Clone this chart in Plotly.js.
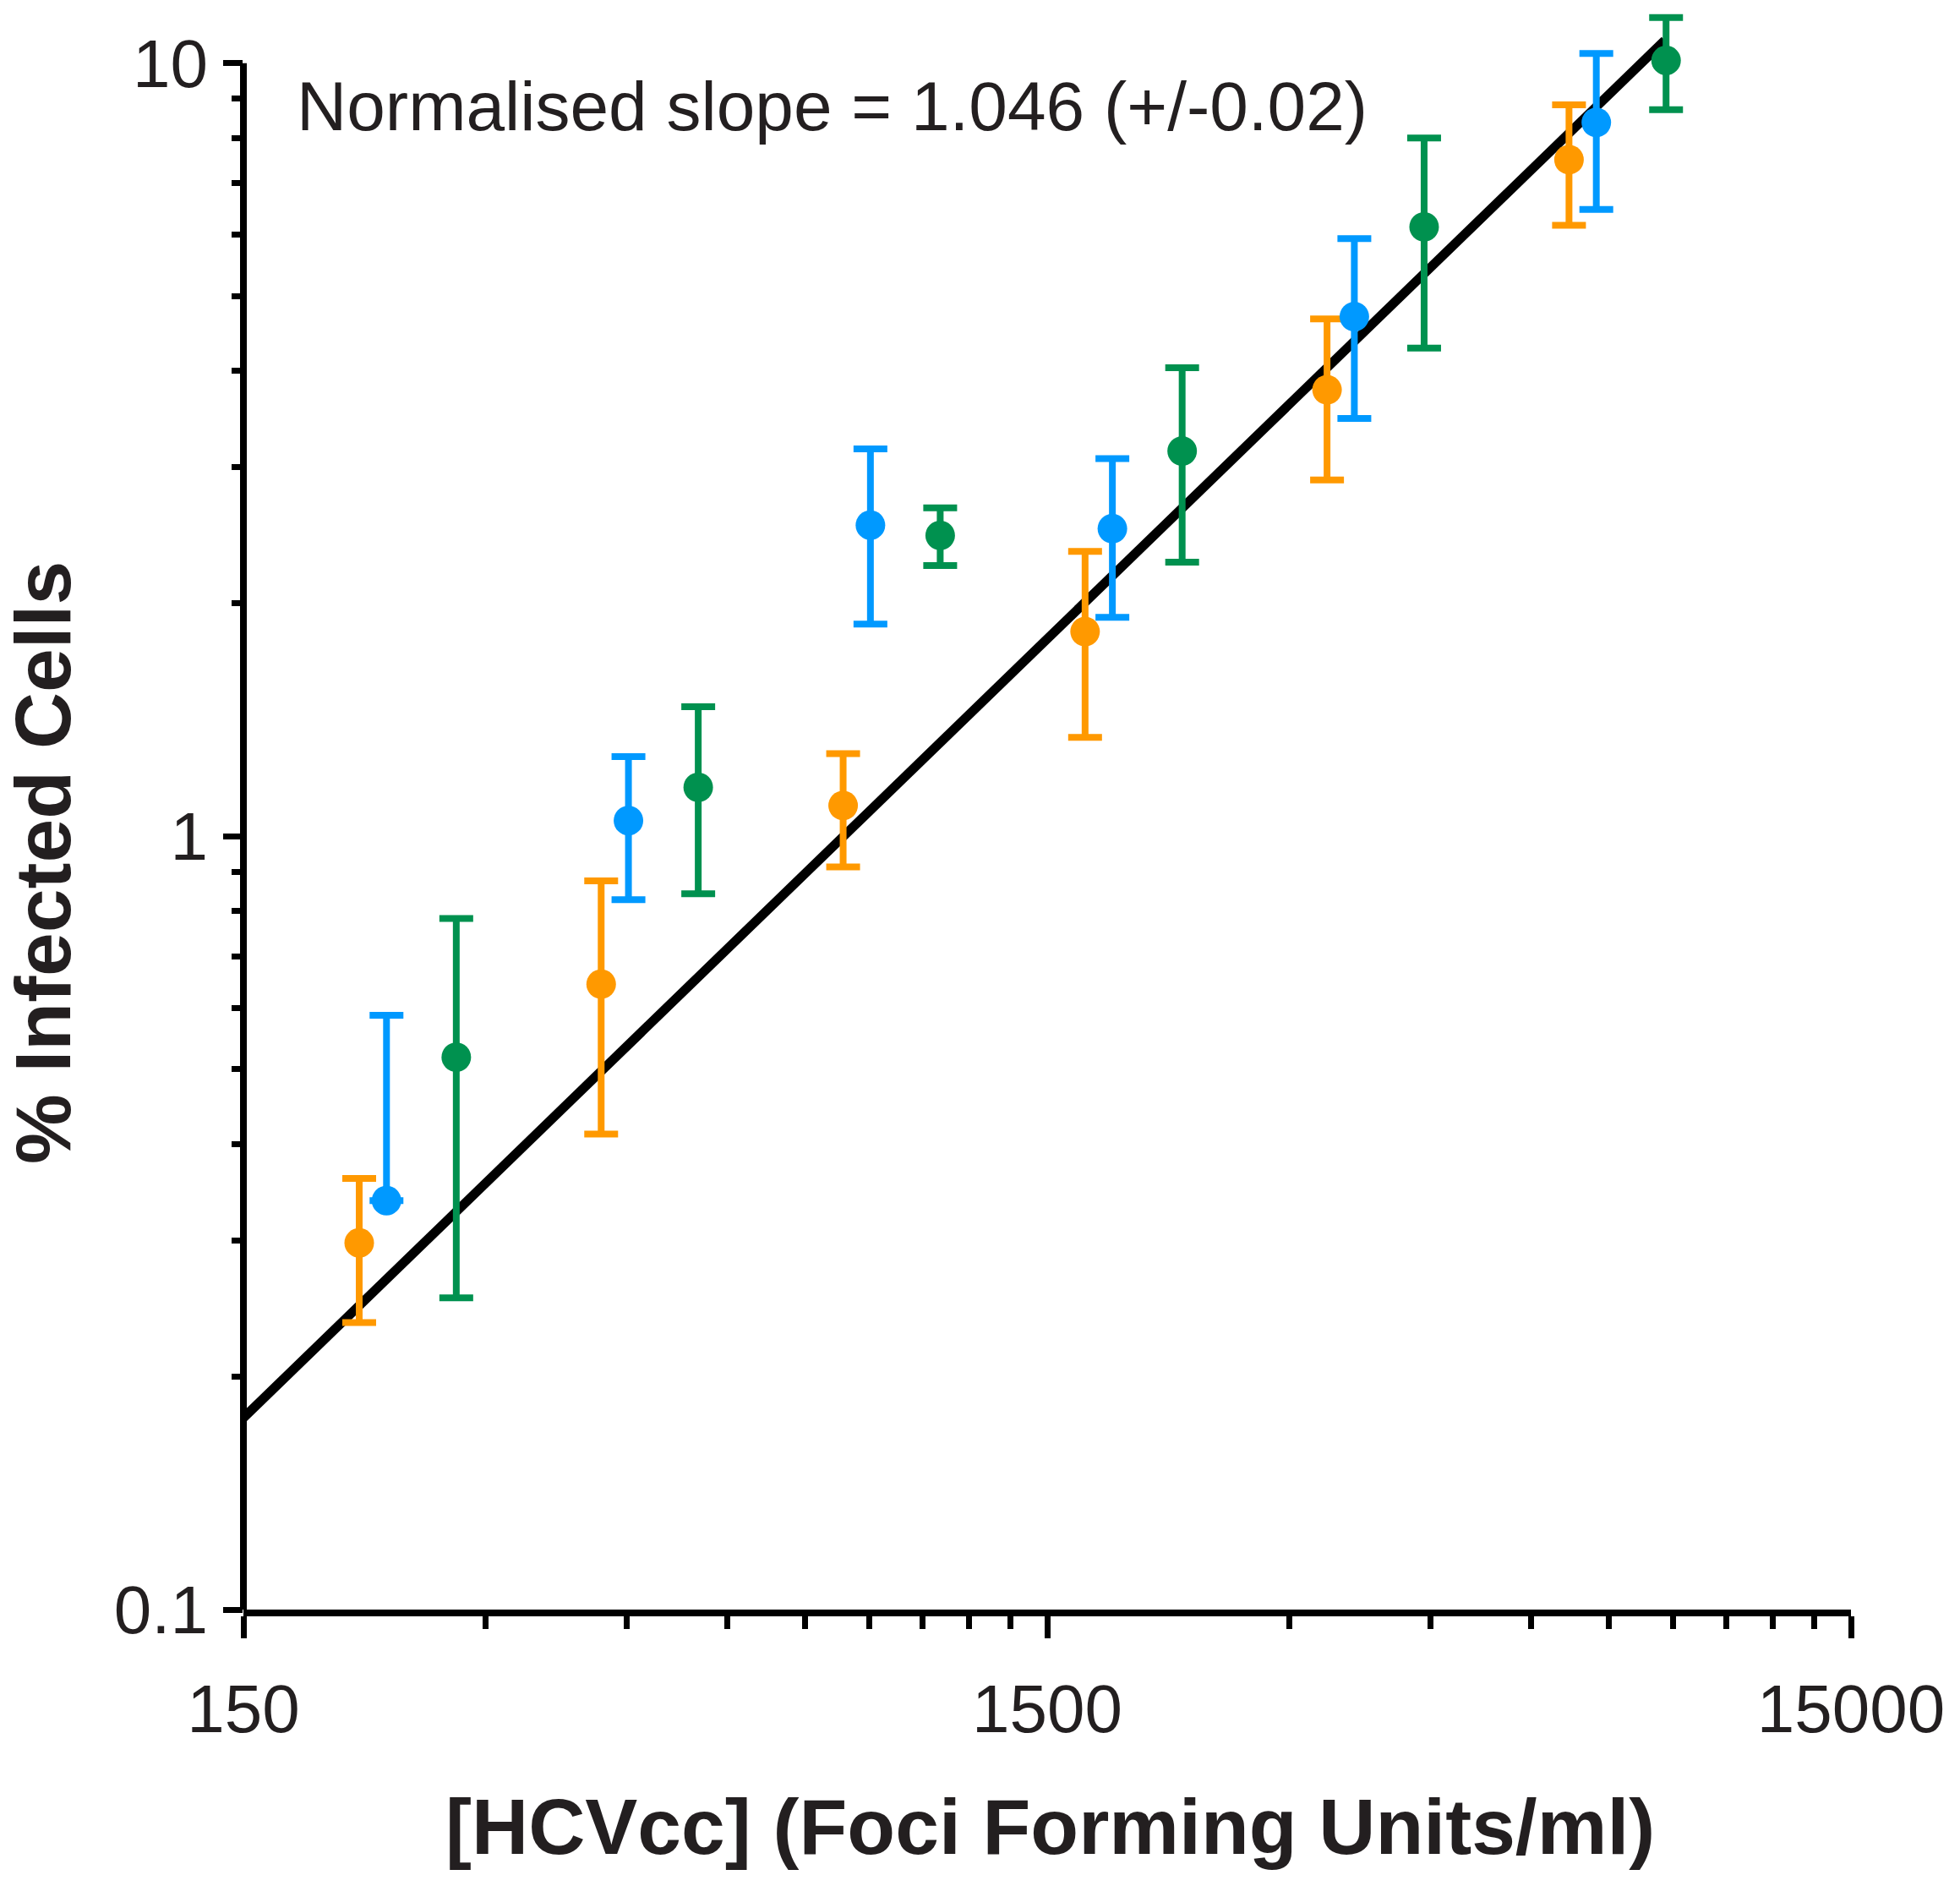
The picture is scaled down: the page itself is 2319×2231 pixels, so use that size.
<!DOCTYPE html>
<html>
<head>
<meta charset="utf-8">
<script src="https://cdn.plot.ly/plotly-3.0.1.min.js"></script>
<style>
  html, body { margin: 0; padding: 0; background: #fff; }
  #chart { width: 2319px; height: 2231px; }
</style>
</head>
<body>
<div id="chart"></div>
<script>
// three replicate titrations, 2-fold dilution steps (FFU/ml vs % infected)
const orangeX = [209, 418, 836, 1672, 3344, 6688];
const orangeY = [0.298, 0.644, 1.096, 1.84, 3.78, 7.5];
const orangeErr = [0.063, 0.232, 0.183, 0.497, 0.89, 1.33];

const blueX = [226, 452, 904, 1808, 3616, 7232];
const blueY = [0.338, 1.048, 2.526, 2.50, 4.70, 8.38];
const blueErr = [0.249, 0.22, 0.645, 0.58, 1.23, 1.91];
const blueErrMinus = [0, 0.22, 0.645, 0.58, 1.23, 1.91]; // lower bar of first point not shown

const greenX = [276, 552, 1104, 2208, 4416, 8832];
const greenY = [0.518, 1.157, 2.45, 3.15, 6.14, 10.08];
const greenErr = [0.265, 0.314, 0.21, 0.887, 1.86, 1.375];

// fitted line
const fitX = [150, 8800];
const fitY = [0.177, 10.7];

// axis ticks
const xTickVals = [150, 1500, 15000];
const xTickText = ["150", "1500", "15000"];
const xMinorVals = [300, 450, 600, 750, 900, 1050, 1200, 1350,
                    3000, 4500, 6000, 7500, 9000, 10500, 12000, 13500];
const yTickVals = [0.1, 1, 10];
const yTickText = ["0.1", "1", "10"];
const yMinorVals = [0.2, 0.3, 0.4, 0.5, 0.6, 0.7, 0.8, 0.9,
                    2, 3, 4, 5, 6, 7, 8, 9];

const fontFamily = "Liberation Sans, Arial, Helvetica, sans-serif";
const ink = "#231f20";

function series(x, y, err, errMinus, color) {
  return {
    x: x,
    y: y,
    type: "scatter",
    mode: "markers",
    marker: { color: color, size: 35 },
    error_y: {
      type: "data",
      symmetric: false,
      array: err,
      arrayminus: errMinus,
      color: color,
      thickness: 8,
      width: 20,
    },
    showlegend: false,
  };
}

const fitTrace = {
  x: fitX,
  y: fitY,
  type: "scatter",
  mode: "lines",
  line: { color: "#000", width: 11 },
  showlegend: false,
};

const data = [
  fitTrace,
  series(orangeX, orangeY, orangeErr, orangeErr, "#ff9900"),
  series(blueX, blueY, blueErr, blueErrMinus, "#0099ff"),
  series(greenX, greenY, greenErr, greenErr, "#00914f"),
];

const layout = {
  width: 2319,
  height: 2231,
  margin: { l: 288, r: 129, t: 10, b: 327 },
  paper_bgcolor: "#fff",
  plot_bgcolor: "#fff",
  showlegend: false,
  font: { family: fontFamily, color: ink },
  xaxis: {
    type: "log",
    range: [Math.log10(150), Math.log10(15000)],
    showgrid: false,
    zeroline: false,
    showline: true,
    linecolor: "#000",
    linewidth: 8,
    ticks: "outside",
    ticklen: 26,
    tickwidth: 7,
    tickcolor: "#000",
    tickvals: xTickVals,
    ticktext: xTickText,
    tickfont: { family: fontFamily, size: 80, color: ink },
    ticklabelstandoff: 15,
    minor: {
      tickvals: xMinorVals,
      ticks: "outside",
      ticklen: 15,
      tickwidth: 7,
      tickcolor: "#000",
      showgrid: false,
    },
  },
  yaxis: {
    type: "log",
    range: [-1, 1.0707], // a little headroom above 10 so the top point is not clipped
    showgrid: false,
    zeroline: false,
    showline: false,
    ticks: "outside",
    ticklen: 23,
    tickwidth: 7,
    tickcolor: "#000",
    tickvals: yTickVals,
    ticktext: yTickText,
    tickfont: { family: fontFamily, size: 80, color: ink },
    ticklabelstandoff: 2,
    minor: {
      tickvals: yMinorVals,
      ticks: "outside",
      ticklen: 13,
      tickwidth: 7,
      tickcolor: "#000",
      showgrid: false,
    },
  },
  shapes: [
    // y axis line, stops at 10
    {
      type: "line",
      xref: "paper",
      yref: "y",
      x0: 0,
      x1: 0,
      y0: 0.1,
      y1: 10,
      line: { color: "#000", width: 8 },
    },
  ],
  annotations: [
    {
      text: "Normalised slope = 1.046 (+/-0.02)",
      xref: "paper",
      yref: "paper",
      x: 0.0321,
      y: 0.9388,
      xanchor: "left",
      yanchor: "middle",
      showarrow: false,
      font: { family: fontFamily, size: 82, color: ink },
    },
    {
      text: "% Infected Cells",
      xref: "paper",
      yref: "paper",
      x: -0.1246,
      y: 0.4662,
      xanchor: "center",
      yanchor: "middle",
      textangle: -90,
      showarrow: false,
      font: { family: fontFamily, size: 93, color: ink, weight: 700 },
    },
    {
      text: "[HCVcc] (Foci Forming Units/ml)",
      xref: "paper",
      yref: "paper",
      x: 0.5016,
      y: -0.1357,
      xanchor: "center",
      yanchor: "middle",
      showarrow: false,
      font: { family: fontFamily, size: 93, color: ink, weight: 700 },
    },
  ],
};

Plotly.newPlot("chart", data, layout, { displayModeBar: false, staticPlot: true });
</script>
</body>
</html>
